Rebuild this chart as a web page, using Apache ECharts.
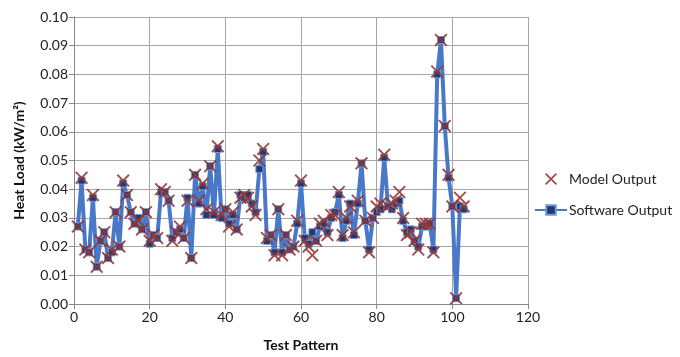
<!DOCTYPE html>
<html>
<head>
<meta charset="utf-8">
<script src="https://cdn.jsdelivr.net/npm/echarts@6/dist/echarts.min.js"></script>
<style>
    html, body { margin: 0; padding: 0; background: #fff; }
    #chart { width: 680px; height: 357px; }
</style>
</head>
<body>
<div id="chart"></div>
<script>
    // test pattern numbers 1..103
    const patterns = [];
    for (let i = 1; i <= 103; i++) patterns.push(i);

    const softwareOutput = [
        0.027, 0.043, 0.019, 0.018, 0.037, 0.013, 0.022, 0.025, 0.016, 0.018,
        0.032, 0.020, 0.042, 0.038, 0.032, 0.028, 0.030, 0.026, 0.032, 0.021,
        0.024, 0.023, 0.039, 0.039, 0.036, 0.023, 0.025, 0.026, 0.023, 0.037,
        0.016, 0.045, 0.035, 0.041, 0.031, 0.048, 0.031, 0.054, 0.030, 0.033,
        0.028, 0.031, 0.026, 0.038, 0.037, 0.038, 0.035, 0.032, 0.047, 0.053,
        0.022, 0.024, 0.018, 0.033, 0.018, 0.024, 0.019, 0.020, 0.028, 0.042,
        0.023, 0.021, 0.025, 0.022, 0.027, 0.028, 0.025, 0.030, 0.032, 0.038,
        0.023, 0.029, 0.035, 0.024, 0.035, 0.049, 0.029, 0.019, 0.030, 0.032,
        0.033, 0.051, 0.034, 0.033, 0.035, 0.036, 0.029, 0.025, 0.026, 0.022,
        0.020, 0.027, 0.027, 0.028, 0.019, 0.080, 0.092, 0.062, 0.044, 0.034,
        0.002, 0.034, 0.033
    ];

    const modelOutput = [
        0.027, 0.044, 0.019, 0.018, 0.038, 0.013, 0.022, 0.025, 0.016, 0.019,
        0.032, 0.020, 0.043, 0.038, 0.032, 0.028, 0.029, 0.026, 0.032, 0.022,
        0.024, 0.023, 0.040, 0.039, 0.036, 0.022, 0.025, 0.027, 0.023, 0.036,
        0.016, 0.045, 0.036, 0.042, 0.033, 0.048, 0.032, 0.055, 0.031, 0.033,
        0.027, 0.032, 0.026, 0.037, 0.038, 0.037, 0.034, 0.031, 0.050, 0.054,
        0.023, 0.024, 0.017, 0.033, 0.017, 0.024, 0.019, 0.020, 0.029, 0.043,
        0.022, 0.020, 0.017, 0.022, 0.028, 0.029, 0.024, 0.031, 0.031, 0.039,
        0.024, 0.030, 0.034, 0.025, 0.036, 0.049, 0.029, 0.018, 0.030, 0.034,
        0.035, 0.052, 0.034, 0.035, 0.036, 0.039, 0.030, 0.024, 0.025, 0.022,
        0.019, 0.028, 0.028, 0.028, 0.018, 0.081, 0.092, 0.062, 0.045, 0.034,
        0.002, 0.037, 0.034
    ];

    const xTicks = [0, 20, 40, 60, 80, 100, 120];
    const yTicks = [0.00, 0.01, 0.02, 0.03, 0.04, 0.05, 0.06, 0.07, 0.08, 0.09, 0.10];

    const font = 'Lato, "Open Sans", sans-serif';
    const crossPath = 'path://M0,1L1,0L5,4L9,0L10,1L6,5L10,9L9,10L5,6L1,10L0,9L4,5Z';

    const chart = echarts.init(document.getElementById('chart'));
    chart.setOption({
        animation: false,
        textStyle: { fontFamily: font },
        grid: { left: 74, right: 152, top: 17, bottom: 51 },
        legend: {
            orient: 'vertical',
            left: 529,
            top: 167,
            itemGap: 17,
            itemWidth: 32,
            itemHeight: 12,
            textStyle: { fontSize: 14, color: '#222', fontFamily: font, padding: [0, 0, 0, -3] },
            data: ['Model Output', 'Software Output']
        },
        xAxis: {
            type: 'value',
            min: xTicks[0],
            max: xTicks[xTicks.length - 1],
            interval: 20,
            name: 'Test Pattern',
            nameLocation: 'middle',
            nameGap: 34,
            nameTextStyle: { fontSize: 14, fontWeight: 'bold', color: '#111' },
            axisLine: { lineStyle: { color: '#888' } },
            axisTick: { show: true, length: 5, lineStyle: { color: '#888' } },
            axisLabel: { fontSize: 14, color: '#222', margin: 6 },
            splitLine: { show: true, lineStyle: { color: '#a6a6a6', width: 1 } }
        },
        yAxis: {
            type: 'value',
            min: yTicks[0],
            max: yTicks[yTicks.length - 1],
            interval: 0.01,
            name: 'Heat Load (kW/m²)',
            nameLocation: 'middle',
            nameGap: 48,
            nameTextStyle: { fontSize: 14, fontWeight: 'bold', color: '#111' },
            axisLine: { show: true, lineStyle: { color: '#888' } },
            axisTick: { show: true, length: 5, lineStyle: { color: '#888' } },
            axisLabel: {
                fontSize: 14, color: '#222', margin: 6,
                formatter: v => v.toFixed(2)
            },
            splitLine: { show: true, lineStyle: { color: '#a6a6a6', width: 1 } }
        },
        series: [
            {
                name: 'Software Output',
                type: 'line',
                data: patterns.map((p, i) => [p, softwareOutput[i]]),
                symbol: 'rect',
                symbolSize: 7,
                showAllSymbol: true,
                lineStyle: { color: '#4a78c8', width: 4 },
                itemStyle: { color: '#1f3a6e', borderColor: '#6f9ae0', borderWidth: 1 },
                z: 2
            },
            {
                name: 'Model Output',
                type: 'scatter',
                data: patterns.map((p, i) => [p, modelOutput[i]]),
                symbol: crossPath,
                symbolSize: 13,
                itemStyle: { color: '#953735', opacity: 0.9 },
                z: 3
            }
        ]
    });
</script>
</body>
</html>
